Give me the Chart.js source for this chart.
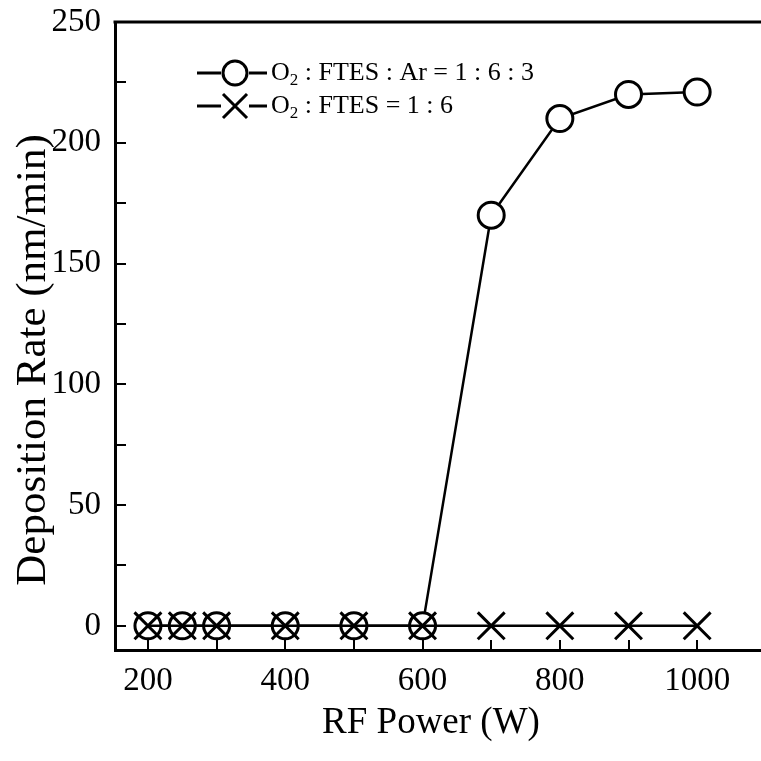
<!DOCTYPE html>
<html>
<head>
<meta charset="utf-8">
<script src="https://cdn.jsdelivr.net/npm/chart.js@4/dist/chart.umd.min.js"></script>
<style>
  html, body { margin: 0; padding: 0; background: #fff; overflow: hidden; }
  canvas { display: block; }
</style>
</head>
<body>
<canvas id="rateChart" width="761" height="761"></canvas>
<script>
const power = [200, 250, 300, 400, 500, 600, 700, 800, 900, 1000];
const rateWithAr = [0, 0, 0, 0, 0, 0, 170, 210, 220, 221];
const rateNoAr = [0, 0, 0, 0, 0, 0, 0, 0, 0, 0];
const xTickLabels = [200, 400, 600, 800, 1000];
const yTickLabels = [0, 50, 100, 150, 200, 250];
const seriesNames = ["O2 : FTES : Ar = 1 : 6 : 3", "O2 : FTES = 1 : 6"];
const xTitle = "RF Power (W)";
const yTitle = "Deposition Rate (nm/min)";

const FONT = "'Liberation Serif', 'Times New Roman', serif";

function toPoints(ys) {
  return power.map((x, i) => ({ x: x, y: ys[i] }));
}

// inward tick marks, top frame line, axis titles and the legend
const framePlugin = {
  id: "frame",
  afterDraw(chart) {
    const ctx = chart.ctx;
    const area = chart.chartArea;
    const xs = chart.scales.x;
    const ys = chart.scales.y;
    ctx.save();
    ctx.strokeStyle = "#000";
    ctx.lineWidth = 2;
    for (let v = 200; v <= 1000; v += 100) {
      const px = Math.round(xs.getPixelForValue(v));
      ctx.beginPath();
      ctx.moveTo(px, area.bottom);
      ctx.lineTo(px, area.bottom - 10);
      ctx.stroke();
    }
    for (let v = 0; v <= 250; v += 25) {
      const py = Math.round(ys.getPixelForValue(v));
      ctx.beginPath();
      ctx.moveTo(area.left, py);
      ctx.lineTo(area.left + 11, py);
      ctx.stroke();
    }
    ctx.lineWidth = 3;
    ctx.beginPath();
    ctx.moveTo(area.left - 1.5, area.top);
    ctx.lineTo(chart.width, area.top);
    ctx.stroke();

    // axis titles
    ctx.fillStyle = "#000";
    ctx.textAlign = "center";
    ctx.textBaseline = "alphabetic";
    ctx.font = "37px " + FONT;
    ctx.fillText(xTitle, 431, 733);
    ctx.save();
    ctx.translate(45, 360);
    ctx.rotate(-Math.PI / 2);
    ctx.font = "43px " + FONT;
    ctx.fillText(yTitle, 0, 0);
    ctx.restore();

    // legend
    const styles = ["circle", "crossRot"];
    const radii = [12, 17];
    const lx = area.left + 82;
    const rows = [area.top + 51, area.top + 84];
    rows.forEach((ly, i) => {
      ctx.lineWidth = 3;
      ctx.strokeStyle = "#000";
      ctx.beginPath();
      ctx.moveTo(lx, ly);
      ctx.lineTo(lx + 24, ly);
      ctx.moveTo(lx + 52, ly);
      ctx.lineTo(lx + 70, ly);
      ctx.stroke();
      ctx.fillStyle = "#fff";
      Chart.helpers.drawPoint(ctx, {
        pointStyle: styles[i],
        radius: radii[i],
        borderWidth: 3,
        rotation: 0
      }, lx + 38, ly);
      ctx.fillStyle = "#000";
      ctx.textBaseline = "middle";
      ctx.textAlign = "left";
      const name = seriesNames[i];
      let tx = lx + 74;
      ctx.font = "26px " + FONT;
      ctx.fillText("O", tx, ly);
      tx += ctx.measureText("O").width;
      ctx.font = "17px " + FONT;
      ctx.fillText("2", tx, ly + 8);
      tx += ctx.measureText("2").width;
      ctx.font = "26px " + FONT;
      ctx.fillText(name.slice(2), tx, ly);
    });
    ctx.restore();
  }
};

new Chart(document.getElementById("rateChart"), {
  type: "line",
  data: {
    datasets: [
      {
        label: seriesNames[0],
        data: toPoints(rateWithAr),
        borderColor: "#000",
        borderWidth: 2.5,
        pointStyle: "circle",
        pointRadius: 13,
        pointBorderWidth: 3,
        pointBorderColor: "#000",
        pointBackgroundColor: "#fff",
        order: 2
      },
      {
        label: seriesNames[1],
        data: toPoints(rateNoAr),
        borderColor: "#000",
        borderWidth: 2.5,
        pointStyle: "crossRot",
        pointRadius: 19,
        pointBorderWidth: 3,
        pointBorderColor: "#000",
        order: 1
      }
    ]
  },
  options: {
    responsive: false,
    animation: false,
    devicePixelRatio: 1,
    clip: false,
    layout: {
      autoPadding: false,
      padding: { top: 22, right: 0, left: 0, bottom: 0 }
    },
    plugins: {
      legend: { display: false },
      tooltip: { enabled: false }
    },
    scales: {
      x: {
        type: "linear",
        min: 152,
        max: 1093,
        afterBuildTicks: (s) => { s.ticks = xTickLabels.map((v) => ({ value: v })); },
        afterFit: (s) => {
          s.height = 111;
          s.paddingLeft = 0;
          s.paddingRight = 0;
        },
        grid: { display: false, drawTicks: false },
        border: { display: true, color: "#000", width: 3 },
        ticks: {
          color: "#000",
          padding: 12,
          maxRotation: 0,
          callback: (v) => String(v),
          font: { family: FONT, size: 33 }
        }
      },
      y: {
        type: "linear",
        min: -10,
        max: 250,
        afterBuildTicks: (s) => { s.ticks = yTickLabels.map((v) => ({ value: v })); },
        afterFit: (s) => {
          s.width = 115;
          s.paddingTop = 0;
          s.paddingBottom = 0;
        },
        grid: { display: false, drawTicks: false },
        border: { display: true, color: "#000", width: 3 },
        ticks: {
          color: "#000",
          padding: 14,
          font: { family: FONT, size: 33 }
        }
      }
    }
  },
  plugins: [framePlugin]
});
</script>
</body>
</html>
